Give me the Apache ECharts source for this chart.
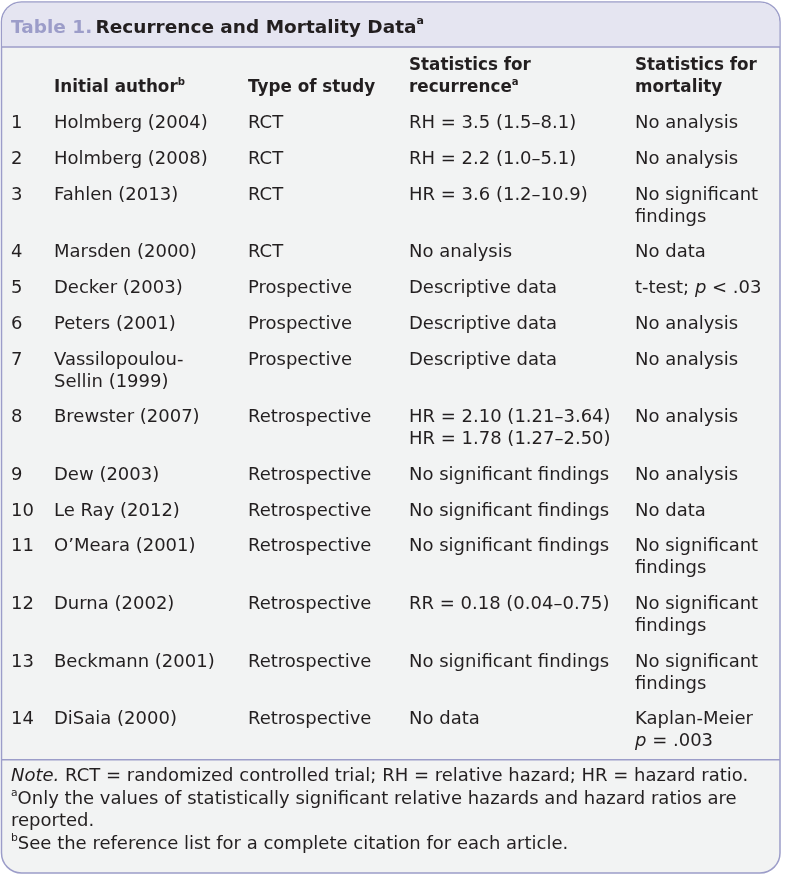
<!DOCTYPE html>
<html><head><meta charset="utf-8">
<script src="https://cdn.jsdelivr.net/npm/echarts@6/dist/echarts.min.js"></script>
<style>html,body{margin:0;padding:0;background:#fff}#c{width:785px;height:880px}</style>
</head><body><div id="c"></div>
<script>
// ---- table content ----
const titleLabel = 'Table 1.';
const titleText = 'Recurrence and Mortality Data';
const columnHeaders = ['', 'Initial author{sup|b}', 'Type of study', 'Statistics for\nrecurrence{sup|a}', 'Statistics for\nmortality'];
const rowNumbers = ['1','2','3','4','5','6','7','8','9','10','11','12','13','14'];
const authors = ['Holmberg (2004)','Holmberg (2008)','Fahlen (2013)','Marsden (2000)','Decker (2003)','Peters (2001)','Vassilopoulou-\nSellin (1999)','Brewster (2007)','Dew (2003)','Le Ray (2012)','O\u2019Meara (2001)','Durna (2002)','Beckmann (2001)','DiSaia (2000)'];
const studyTypes = ['RCT','RCT','RCT','RCT','Prospective','Prospective','Prospective','Retrospective','Retrospective','Retrospective','Retrospective','Retrospective','Retrospective','Retrospective'];
const recurrenceStats = ['RH = 3.5 (1.5\u20138.1)','RH = 2.2 (1.0\u20135.1)','HR = 3.6 (1.2\u201310.9)','No analysis','Descriptive data','Descriptive data','Descriptive data','HR = 2.10 (1.21\u20133.64)\nHR = 1.78 (1.27\u20132.50)','No significant findings','No significant findings','No significant findings','RR = 0.18 (0.04\u20130.75)','No significant findings','No data'];
const mortalityStats = ['No analysis','No analysis','No significant\nfindings','No data','t-test; {i|p} < .03','No analysis','No analysis','No analysis','No analysis','No data','No significant\nfindings','No significant\nfindings','No significant\nfindings','Kaplan-Meier\n{i|p} = .003'];
const footnotes = ['{i|Note.} RCT = randomized controlled trial; RH = relative hazard; HR = hazard ratio.','{sup|a}Only the values of statistically significant relative hazards and hazard ratios are','reported.','{sup|b}See the reference list for a complete citation for each article.'];

// ---- layout / style ----
const box = {x: 1.5, y: 2, w: 778.5, h: 871, r: 20};
const headerBandH = 45;
const colX = [11, 54, 248, 409, 635];
const lineH = 22;
const rowGap = 35.7;
const headFirstLine = 66;
const bodyFont = '"DejaVu Sans", sans-serif';
const noteFont = '"DejaVu Sans", sans-serif';
const textColor = '#231f20';
const accent = '#9c9dc9';

const chart = echarts.init(document.getElementById('c'), null, {renderer: 'canvas'});
const g = [];

g.push({type: 'rect', shape: {x: box.x, y: box.y, width: box.w, height: box.h, r: box.r},
  style: {fill: '#f2f3f3', stroke: accent, lineWidth: 1.5}, z: 1});
g.push({type: 'rect', shape: {x: box.x + 0.75, y: box.y + 0.75, width: box.w - 1.5, height: headerBandH - 0.75, r: [box.r - 1, box.r - 1, 0, 0]},
  style: {fill: '#e5e5f1'}, z: 2});
g.push({type: 'line', shape: {x1: box.x, y1: box.y + headerBandH, x2: box.x + box.w, y2: box.y + headerBandH},
  style: {stroke: accent, lineWidth: 1.5}, z: 3});

function txt(x, y, text, opts) {
  opts = opts || {};
  const fs = opts.fontSize || 18;
  const ff = opts.fontFamily || bodyFont;
  const fw = opts.fontWeight || 'normal';
  const lh = opts.lineHeight || lineH;
  const fill = opts.fill || textColor;
  g.push({type: 'text', z: 10, x: x, y: y, style: {
    text: text, fill: fill, fontFamily: ff, fontSize: fs, fontWeight: fw,
    lineHeight: lh, verticalAlign: 'middle', align: 'left',
    rich: {
      sup: {fontSize: fs * 0.6, fontWeight: fw, fontFamily: ff, fill: fill, verticalAlign: 'top', lineHeight: lh},
      i: {fontStyle: 'italic', fontSize: fs, fontWeight: fw, fontFamily: ff, fill: fill, lineHeight: lh}
    }
  }});
}

// title
g.push({type: 'text', z: 10, x: 11, y: 28, style: {
  text: '{a|' + titleLabel + '} {b|' + titleText + '}{s|a}', verticalAlign: 'middle', align: 'left',
  rich: {
    a: {fontFamily: bodyFont, fontWeight: 'bold', fontSize: 18.5, fill: accent, lineHeight: 24},
    b: {fontFamily: bodyFont, fontWeight: 'bold', fontSize: 18.5, fill: textColor, lineHeight: 24},
    s: {fontFamily: bodyFont, fontWeight: 'bold', fontSize: 11, fill: textColor, verticalAlign: 'top', lineHeight: 24}
  }}});

// column headers (bottom aligned to line 2)
columnHeaders.forEach(function (h, c) {
  if (!h) return;
  const lines = h.split('\n').length;
  const y0 = headFirstLine + (2 - lines) * lineH;
  txt(colX[c], y0 - lineH / 2 + (lines * lineH) / 2, h, {fontWeight: 'bold', fontSize: 16.8});
});

// body rows
let y = headFirstLine + lineH;
rowNumbers.forEach(function (n, i) {
  y += rowGap;
  const cells = [n, authors[i], studyTypes[i], recurrenceStats[i], mortalityStats[i]];
  let maxLines = 1;
  cells.forEach(function (t, c) {
    const lines = t.split('\n').length;
    maxLines = Math.max(maxLines, lines);
    txt(colX[c], y - lineH / 2 + (lines * lineH) / 2, t, {});
  });
  y += (maxLines - 1) * lineH;
});

// separator above notes
const sepY = y + 18;
g.push({type: 'line', shape: {x1: box.x, y1: sepY, x2: box.x + box.w, y2: sepY}, style: {stroke: accent, lineWidth: 1.5}, z: 3});

footnotes.forEach(function (t, k) {
  txt(11, sepY + 16.5 + k * 22.7, t, {fontFamily: noteFont, fontSize: 18, lineHeight: 22.7});
});

chart.setOption({animation: false, graphic: {elements: g}});
</script></body></html>
